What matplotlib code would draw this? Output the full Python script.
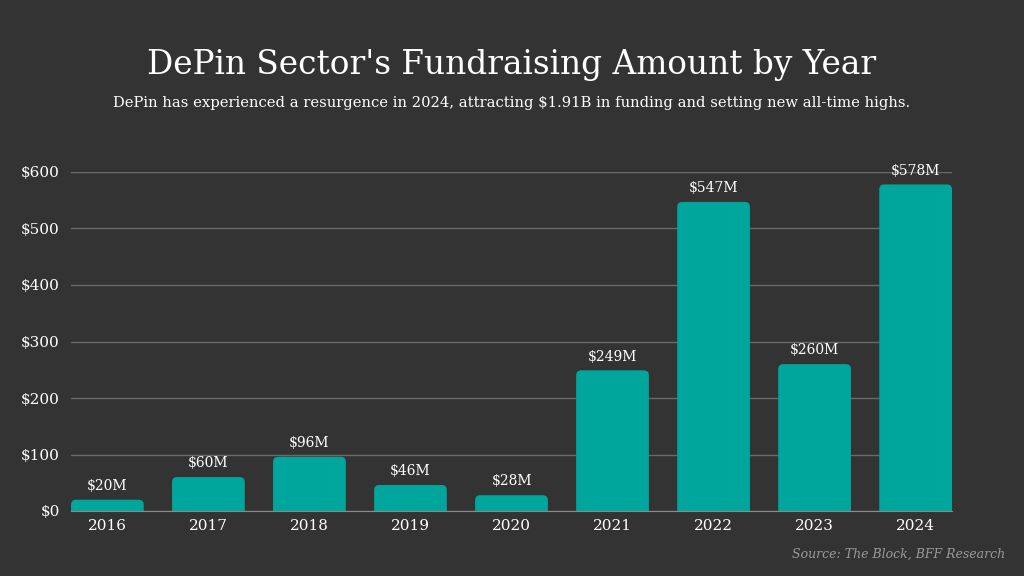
import matplotlib
matplotlib.use("Agg")
import matplotlib.pyplot as plt
from matplotlib.patches import FancyBboxPatch

years = ["2016", "2017", "2018", "2019", "2020", "2021", "2022", "2023", "2024"]
amounts = [20, 60, 96, 46, 28, 249, 547, 260, 578]
bar_labels = ["$20M", "$60M", "$96M", "$46M", "$28M", "$249M", "$547M", "$260M", "$578M"]
y_ticks = [0, 100, 200, 300, 400, 500, 600]
y_tick_labels = ["$0", "$100", "$200", "$300", "$400", "$500", "$600"]

bg = "#333333"
teal = "#00A69C"
plt.rcParams['font.family'] = ['DejaVu Serif']

fig = plt.figure(figsize=(10.24, 5.76), dpi=100, facecolor=bg)
ax = fig.add_axes([71 / 1024, 65 / 576, 881 / 1024, 339 / 576])
ax.set_facecolor(bg)

width = 0.72
ax.set_xlim(-width / 2, len(years) - 1 + width / 2)
ax.set_ylim(0, 600)

# rounded tops: aspect between y data units and x data units in pixels
px_x = 881 / (len(years) - 1 + width)
px_y = 339 / 600
aspect = px_x / px_y
for i, v in enumerate(amounts):
    p = FancyBboxPatch((i - width / 2, -20), width, v + 20,
                       boxstyle="round,pad=0,rounding_size=0.05",
                       mutation_aspect=aspect, facecolor=teal, edgecolor="none",
                       zorder=3)
    ax.add_patch(p)
    ax.text(i, v + 12, bar_labels[i], ha="center", va="bottom", color="white",
            fontsize=10, clip_on=False)

ax.set_yticks(y_ticks)
ax.set_yticklabels(y_tick_labels)
ax.set_xticks(range(len(years)))
ax.set_xticklabels(years)
ax.tick_params(axis="both", length=0, colors="white", labelsize=11)
ax.tick_params(axis="y", pad=8)
ax.tick_params(axis="x", pad=6)
ax.grid(axis="y", color="#6a6a6a", linewidth=1)
ax.set_axisbelow(True)
for s in ["top", "right", "left"]:
    ax.spines[s].set_visible(False)
ax.spines["bottom"].set_color("#8a8a8a")
ax.spines["bottom"].set_zorder(4)

fig.text(0.5, 1 - 65 / 576, "DePin Sector's Fundraising Amount by Year", ha="center",
         va="center", color="white", fontsize=23.6)
fig.text(0.5, 1 - 103 / 576,
         "DePin has experienced a resurgence in 2024, attracting $1.91B in funding and setting new all-time highs.",
         ha="center", va="center", color="white", fontsize=10.65)
fig.text(1005 / 1024, 1 - 554 / 576, "Source: The Block, BFF Research", ha="right",
         va="center", color="#9a9a9a", fontsize=9, style="italic")

fig.savefig("out.png", dpi=100, facecolor=bg)
